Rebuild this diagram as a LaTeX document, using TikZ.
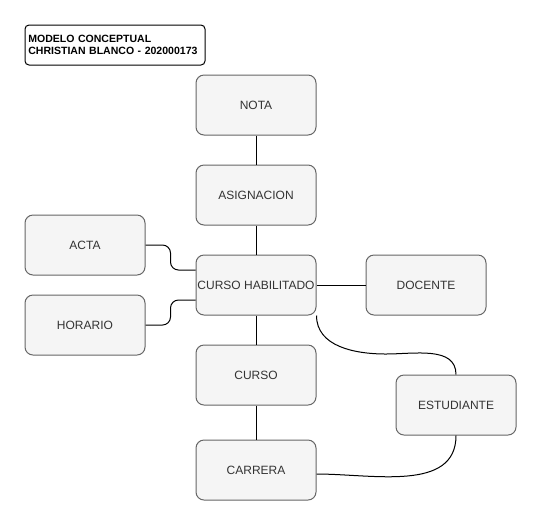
\documentclass[tikz,border=0pt]{standalone}
\usepackage{fontspec}
\setmainfont{Liberation Sans}
\usepackage{tikz}
\usetikzlibrary{positioning}

\definecolor{cajafondo}{HTML}{F5F5F5}
\definecolor{cajaborde}{HTML}{666666}
\definecolor{cajatexto}{HTML}{333333}

\begin{document}
\begin{tikzpicture}[x=0.75pt, y=-0.75pt,
    entidad/.style={draw=cajaborde, fill=cajafondo, rounded corners=6pt, line width=0.75pt,
      minimum width=90pt, minimum height=45pt, inner sep=1pt, text=cajatexto, font=\fontsize{9}{11}\selectfont},
    titulo/.style={draw=black, rounded corners=3pt, line width=0.75pt, minimum width=135pt, minimum height=30pt,
      align=left, text width=130pt, inner sep=2pt, font=\fontsize{7.9}{9.5}\selectfont\bfseries},
    enlace/.style={line width=0.75pt}]
    \useasboundingbox (0,0) rectangle (541,526);
    % Nodos
    \node[titulo] (titulo) at (115,45) {MODELO CONCEPTUAL\\CHRISTIAN BLANCO - 202000173};
    \node[entidad] (nota) at (256,105) {NOTA};
    \node[entidad] (asignacion) at (256,195) {ASIGNACION};
    \node[entidad] (cursohab) at (256,285) {CURSO HABILITADO};
    \node[entidad] (curso) at (256,375) {CURSO};
    \node[entidad] (carrera) at (256,470) {CARRERA};
    \node[entidad] (acta) at (85,245) {ACTA};
    \node[entidad] (horario) at (85,325) {HORARIO};
    \node[entidad] (docente) at (426,285) {DOCENTE};
    \node[entidad] (estudiante) at (456,405) {ESTUDIANTE};
    \coordinate (medio) at (386,354);

    % Aristas
    \draw[enlace] (nota) -- (asignacion);
    \draw[enlace] (asignacion) -- (cursohab);
    \draw[enlace] (cursohab) -- (curso);
    \draw[enlace] (curso) -- (carrera);
    \draw[enlace] (cursohab) -- (docente);
    \draw[enlace, rounded corners=6pt] (acta.east) -- ++(25,0) |- ([yshift=11.25pt]cursohab.west);
    \draw[enlace, rounded corners=6pt] (horario.east) -- ++(25,0) |- ([yshift=-11.25pt]cursohab.west);
    \draw[enlace] (cursohab.south east) to[out=-90, in=180] (medio) to[out=0, in=90] (estudiante.north);
    \draw[enlace] (estudiante.south) to[out=-90, in=0] ([yshift=-3pt]carrera.east);
\end{tikzpicture}
\end{document}
